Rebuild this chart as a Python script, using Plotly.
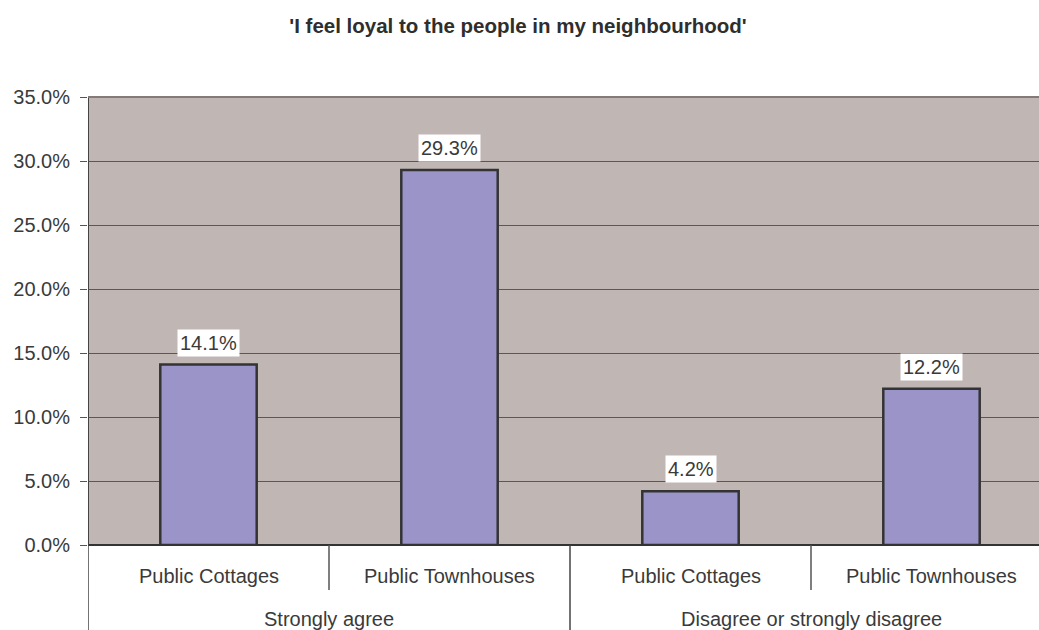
import plotly.graph_objects as go

title = "'I feel loyal to the people in my neighbourhood'"
groups = ["Strongly agree", "Disagree or strongly disagree"]
subcats = ["Public Cottages", "Public Townhouses", "Public Cottages", "Public Townhouses"]
values = [0.141, 0.293, 0.042, 0.122]
labels = ["14.1%", "29.3%", "4.2%", "12.2%"]

W, H = 1039, 630
L, T, B, R = 88, 97, 85, 0
plot_h = H - T - B
FONT = "Liberation Sans, Arial, sans-serif"
TXT = "#3a3a3a"

xs = list(range(len(values)))
fig = go.Figure()
fig.add_trace(go.Bar(
    x=xs, y=values, width=0.4,
    marker=dict(color="#9b94c8", line=dict(color="#333333", width=2.5)),
    hoverinfo="skip",
))

for x, v, t in zip(xs, values, labels):
    fig.add_annotation(x=x, y=v, text=t, showarrow=False, yanchor="bottom", yshift=8,
                       bgcolor="white", borderpad=2, font=dict(family=FONT, size=20, color=TXT))

def py(px):
    return -px / plot_h

for x, s in zip(xs, subcats):
    fig.add_annotation(x=x, y=py(31), yref="paper", text=s, showarrow=False, yanchor="middle",
                       font=dict(family=FONT, size=20, color=TXT))
for gi, g in enumerate(groups):
    fig.add_annotation(x=0.5 + 2 * gi, y=py(74), yref="paper", text=g, showarrow=False, yanchor="middle",
                       font=dict(family=FONT, size=20, color=TXT))

# separators
for xv in [0.5, 2.5]:
    fig.add_shape(type="line", x0=xv, x1=xv, xref="x", y0=0, y1=py(45), yref="paper",
                  line=dict(color="#555555", width=1.5))
for xv in [-0.5, 1.5]:
    fig.add_shape(type="line", x0=xv, x1=xv, xref="x", y0=0, y1=py(90), yref="paper",
                  line=dict(color="#444444", width=1.5))
# left axis line
fig.add_shape(type="line", x0=-0.5, x1=-0.5, xref="x", y0=0, y1=1, yref="paper",
              line=dict(color="#444444", width=2))
# top border
fig.add_shape(type="line", x0=0, x1=1, xref="paper", y0=1, y1=1, yref="paper",
              line=dict(color="#857a78", width=2))

fig.update_layout(
    width=W, height=H,
    margin=dict(l=L, r=R, t=T, b=B),
    plot_bgcolor="#c0b7b4", paper_bgcolor="white",
    showlegend=False,
    title=dict(text="<b>" + title + "</b>", x=518 / W, xanchor="center", y=1 - 26 / H, yanchor="middle",
               font=dict(family=FONT, size=20.5, color="#2e2e2e")),
    xaxis=dict(range=[-0.5, -0.5 + (W - L) / 241], showticklabels=False, showgrid=False,
               zeroline=False, showline=False, ticks=""),
    yaxis=dict(range=[0, 0.35], tickvals=[i * 0.05 for i in range(8)], tickformat=".1%",
               showgrid=True, gridcolor="#5e5656", gridwidth=1, zeroline=True, zerolinecolor="#333333",
               zerolinewidth=2, ticks="outside", ticklen=7, tickcolor="#555555", ticklabelstandoff=6,
               tickfont=dict(family=FONT, size=20, color=TXT), showline=False),
)

fig.write_html(
    "out.html",
    config={"displayModeBar": False},
    post_script="document.body.style.margin='0';document.documentElement.style.overflow='hidden';",
)
